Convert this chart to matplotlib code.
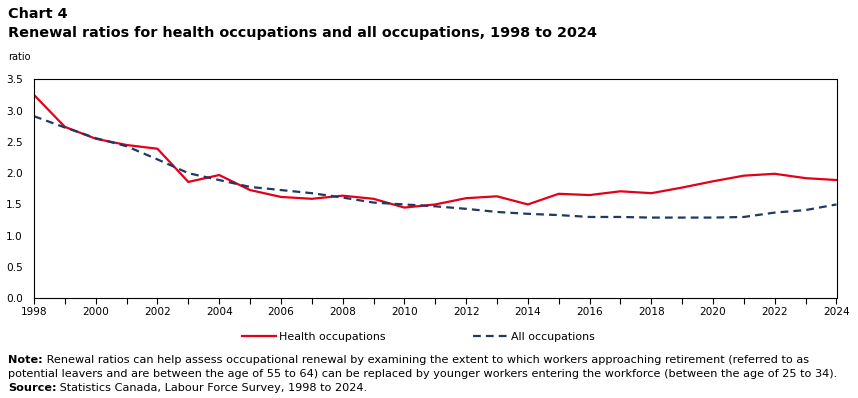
import matplotlib
matplotlib.use("Agg")
import matplotlib.pyplot as plt
from matplotlib.lines import Line2D
from matplotlib.ticker import MultipleLocator, FormatStrFormatter

# Data
years = list(range(1998, 2025))
health = [3.25, 2.74, 2.55, 2.45, 2.39, 1.86, 1.97, 1.73, 1.62, 1.59,
          1.64, 1.59, 1.45, 1.50, 1.60, 1.63, 1.50, 1.67, 1.65, 1.71,
          1.68, 1.77, 1.87, 1.96, 1.99, 1.92, 1.89]
all_occ = [2.91, 2.73, 2.56, 2.43, 2.22, 2.00, 1.89, 1.78, 1.73, 1.68,
           1.61, 1.53, 1.50, 1.47, 1.43, 1.38, 1.35, 1.33, 1.30, 1.30,
           1.29, 1.29, 1.29, 1.30, 1.37, 1.41, 1.50]

red = "#e3001b"
navy = "#1f3864"
plt.rcParams['font.family'] = "DejaVu Sans"

fig = plt.figure(figsize=(8.58, 3.98), dpi=100)
ax = fig.add_axes([34 / 858, 1 - 298.3 / 398, (836.5 - 34) / 858, (298.3 - 79.3) / 398])

ax.plot(years, health, color=red, lw=1.6, solid_joinstyle='miter')
ax.plot(years, all_occ, color=navy, lw=1.6, linestyle=(0, (3.5, 2.3)))

ax.set_xlim(1998, 2024)
ax.set_ylim(0, 3.5)
ax.xaxis.set_major_locator(MultipleLocator(2))
ax.xaxis.set_minor_locator(MultipleLocator(1))
ax.yaxis.set_major_locator(MultipleLocator(0.5))
ax.yaxis.set_major_formatter(FormatStrFormatter('%.1f'))
ax.tick_params(axis='x', which='both', direction='out', length=4, width=0.8,
               labelsize=7.6, pad=2)
ax.tick_params(axis='y', length=0, labelsize=7.6, pad=8)
for sp in ax.spines.values():
    sp.set_linewidth(0.8)
    sp.set_color('black')

# Titles
fig.text(8 / 858, 1 - 14 / 398, "Chart 4", fontsize=10.4, fontweight='bold',
         va='center', ha='left')
fig.text(8 / 858, 1 - 33 / 398,
         "Renewal ratios for health occupations and all occupations, 1998 to 2024",
         fontsize=10.4, fontweight='bold', va='center', ha='left')
fig.text(8 / 858, 1 - 57 / 398, "ratio", fontsize=7, va='center', ha='left')

# Legend
handles = [Line2D([], [], color=red, lw=1.6),
           Line2D([], [], color=navy, lw=1.6, linestyle=(0, (3.5, 2.3)))]
fig.legend(handles, ["Health occupations", "All occupations"],
           loc='center', bbox_to_anchor=(418 / 858, 1 - 337 / 398), ncol=2,
           frameon=False, fontsize=7.9, handlelength=3.1, handletextpad=0.3,
           columnspacing=8.0)

# Notes
note_size = 8.1
b = fig.text(8 / 858, 1 - 360 / 398, "Note:", fontsize=note_size,
             fontweight='bold', va='center', ha='left')
ax.annotate(" Renewal ratios can help assess occupational renewal by examining the extent to which workers approaching retirement (referred to as",
            xy=(1, 0), xycoords=b, va='bottom', ha='left', fontsize=note_size,
            annotation_clip=False)
fig.text(8 / 858, 1 - 374 / 398,
         "potential leavers and are between the age of 55 to 64) can be replaced by younger workers entering the workforce (between the age of 25 to 34).",
         fontsize=note_size, va='center', ha='left')
s = fig.text(8 / 858, 1 - 388 / 398, "Source:", fontsize=note_size,
             fontweight='bold', va='center', ha='left')
ax.annotate(" Statistics Canada, Labour Force Survey, 1998 to 2024.",
            xy=(1, 0), xycoords=s, va='bottom', ha='left', fontsize=note_size,
            annotation_clip=False)

fig.savefig("out.png", dpi=100)
